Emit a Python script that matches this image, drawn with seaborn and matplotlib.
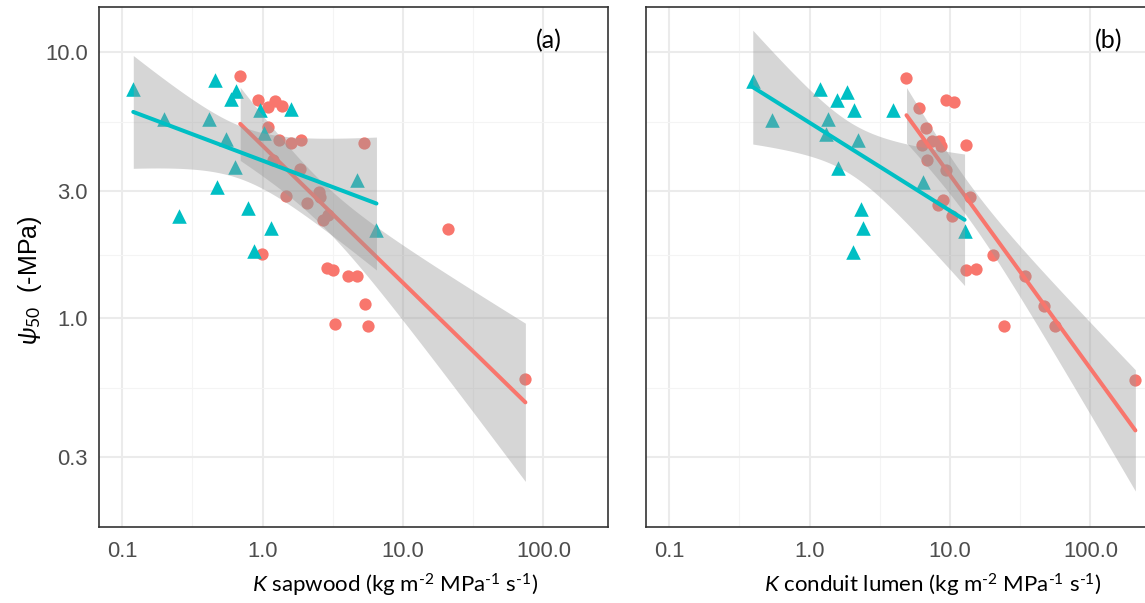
import numpy as np
import pandas as pd
import matplotlib
matplotlib.use("Agg")
import matplotlib.pyplot as plt
import seaborn as sns
from math import gamma, sqrt, pi

# ---------------- data ----------------
# Panel (a): K sapwood
sap_tri_x = [0.120, 0.455, 0.649, 0.598, 0.200, 0.417, 0.952, 1.59, 0.548,
             1.03, 0.639, 0.473, 0.787, 0.252, 1.15, 0.863, 4.71, 6.47]
sap_tri_y = [7.26, 7.87, 7.11, 6.66, 5.60, 5.61, 6.03, 6.11, 4.71,
             4.96, 3.69, 3.11, 2.59, 2.42, 2.18, 1.78, 3.29, 2.15]
sap_cir_x = [0.693, 0.921, 1.09, 1.23, 1.38, 1.10, 1.30, 1.59, 1.88, 1.19,
             1.86, 1.46, 2.08, 2.51, 2.58, 2.91, 2.70, 0.995, 2.87, 3.17,
             4.05, 4.74, 5.40, 3.30, 5.61, 20.8, 74.4, 5.31]
sap_cir_y = [8.09, 6.62, 6.21, 6.52, 6.24, 5.22, 4.65, 4.55, 4.68, 3.94,
             3.63, 2.87, 2.71, 2.99, 2.84, 2.45, 2.33, 1.74, 1.54, 1.51,
             1.44, 1.44, 1.13, 0.949, 0.936, 2.17, 0.590, 4.56]

# Panel (b): K conduit lumen
lum_tri_x = [0.394, 0.538, 1.19, 1.84, 1.57, 2.08, 3.92, 1.35, 1.31, 2.20,
             1.60, 6.47, 2.32, 2.41, 2.03, 12.7]
lum_tri_y = [7.80, 5.57, 7.26, 7.07, 6.62, 6.03, 6.06, 5.60, 4.92, 4.68,
             3.68, 3.26, 2.58, 2.18, 1.77, 2.13]
lum_cir_x = [4.90, 6.02, 9.43, 10.6, 6.75, 7.39, 8.36, 6.37, 8.59, 12.9,
             6.83, 9.44, 13.9, 8.95, 8.22, 10.3, 13.1, 15.3, 20.3, 34.1,
             47.1, 24.2, 55.5, 209.0]
lum_cir_y = [8.00, 6.17, 6.58, 6.47, 5.17, 4.64, 4.64, 4.48, 4.42, 4.48,
             3.94, 3.59, 2.85, 2.79, 2.66, 2.41, 1.51, 1.53, 1.73, 1.44,
             1.11, 0.937, 0.930, 0.586]

x_tick_labels = ["0.1", "1.0", "10.0", "100.0"]
y_tick_labels = ["0.3", "1.0", "3.0", "10.0"]
panel_tags = ["(a)", "(b)"]
x_titles = [r"$\mathit{K}$ sapwood (kg m$^{\text{-2}}$ MPa$^{\text{-1}}$ s$^{\text{-1}}$)",
            r"$\mathit{K}$ conduit lumen (kg m$^{\text{-2}}$ MPa$^{\text{-1}}$ s$^{\text{-1}}$)"]
y_title = r"$\psi_{50}$  (-MPa)"

RED = "#F8766D"
CYAN = "#00BFC4"

# ---------------- style ----------------
sns.set_theme(style="white")
plt.rcParams["font.family"] = ["Liberation Sans", "DejaVu Sans"]
plt.rcParams["mathtext.fontset"] = "custom"
plt.rcParams["mathtext.rm"] = "Lato"
plt.rcParams["mathtext.it"] = "Lato:italic"
plt.rcParams["mathtext.sf"] = "Lato"


def t975(df):
    xs = np.linspace(0, 12, 240001)
    c = gamma((df + 1) / 2) / (sqrt(df * pi) * gamma(df / 2))
    pdf = c * (1 + xs ** 2 / df) ** (-(df + 1) / 2)
    cdf = 0.5 + np.concatenate([[0.0], np.cumsum((pdf[1:] + pdf[:-1]) / 2 * np.diff(xs))])
    return float(np.interp(0.975, cdf, xs))


def band(ax, lx, ly, z):
    lx = np.asarray(lx); ly = np.asarray(ly)
    n = len(lx)
    b, a = np.polyfit(lx, ly, 1)
    res = ly - (a + b * lx)
    s = np.sqrt(np.sum(res ** 2) / (n - 2))
    xs = np.linspace(lx.min(), lx.max(), 120)
    sxx = np.sum((lx - lx.mean()) ** 2)
    se = s * np.sqrt(1.0 / n + (xs - lx.mean()) ** 2 / sxx)
    t = t975(n - 2)
    yh = a + b * xs
    ax.fill_between(xs, yh - t * se, yh + t * se, color="#999999", alpha=0.4,
                    linewidth=0, zorder=z)


W, H = 1145, 603
fig = plt.figure(figsize=(W / 100, H / 100), dpi=100)
ax_l = fig.add_axes([99 / W, 1 - 527 / H, 509 / W, 520 / H])
ax_r = fig.add_axes([646 / W, 1 - 527 / H, 509 / W, 520 / H])

xt = np.log10([float(v) for v in x_tick_labels])
yt = np.log10([float(v) for v in y_tick_labels])
x_minor = (xt[:-1] + xt[1:]) / 2
y_minor = (yt[:-1] + yt[1:]) / 2

panels = [
    (ax_l, sap_tri_x, sap_tri_y, sap_cir_x, sap_cir_y),
    (ax_r, lum_tri_x, lum_tri_y, lum_cir_x, lum_cir_y),
]

for i, (ax, tx, ty, cx, cy) in enumerate(panels):
    tri = pd.DataFrame({"lx": np.log10(tx), "ly": np.log10(ty)})
    cir = pd.DataFrame({"lx": np.log10(cx), "ly": np.log10(cy)})

    sns.scatterplot(data=cir, x="lx", y="ly", marker="o", color=RED, s=78,
                    linewidth=0, ax=ax, zorder=2, legend=False)
    sns.scatterplot(data=tri, x="lx", y="ly", marker="^", color=CYAN, s=110,
                    linewidth=0, ax=ax, zorder=2, legend=False)

    band(ax, cir["lx"], cir["ly"], 3)
    sns.regplot(data=cir, x="lx", y="ly", scatter=False, ci=None, truncate=True,
                color=RED, line_kws=dict(lw=2.9, zorder=3.1), ax=ax)
    band(ax, tri["lx"], tri["ly"], 3.2)
    sns.regplot(data=tri, x="lx", y="ly", scatter=False, ci=None, truncate=True,
                color=CYAN, line_kws=dict(lw=2.9, zorder=3.3), ax=ax)

    ax.set_xlim(-1.165, 2.46)
    ax.set_ylim(-0.785, 1.169)
    ax.set_xticks(xt)
    ax.set_xticklabels(x_tick_labels)
    ax.set_yticks(yt)
    ax.set_yticklabels(y_tick_labels if i == 0 else [])
    ax.set_xticks(x_minor, minor=True)
    ax.set_yticks(y_minor, minor=True)
    ax.grid(True, which="major", color="#EBEBEB", lw=1.5, zorder=0)
    ax.grid(True, which="minor", color="#F4F4F4", lw=0.8, zorder=0)
    ax.set_axisbelow(True)
    ax.tick_params(which="major", direction="out", length=4, width=1.1,
                   color="#333333", labelcolor="#4D4D4D", labelsize=15.8, pad=4)
    ax.tick_params(which="minor", length=0)
    ax.tick_params(axis="x", pad=6)
    for sp in ax.spines.values():
        sp.set_color("#333333")
        sp.set_linewidth(1.2)
        sp.set_visible(True)
    ax.set_xlabel("")
    ax.set_ylabel("")

# panel tags
fig.text(548.5 / W, 1 - 40.5 / H, panel_tags[0], ha="center", va="center",
         fontsize=18, family="Lato", color="black")
fig.text(1109 / W, 1 - 40.5 / H, panel_tags[1], ha="center", va="center",
         fontsize=18, family="Lato", color="black")

# axis titles
fig.text(395 / W, 1 - 585 / H, x_titles[0], ha="center", va="center",
         fontsize=16, family="Lato", color="black")
fig.text(933 / W, 1 - 585 / H, x_titles[1], ha="center", va="center",
         fontsize=16, family="Lato", color="black")
fig.text(30 / W, 1 - 280 / H, y_title, ha="center", va="center",
         rotation=90, fontsize=18, color="black")

fig.savefig("out.png", dpi=100)
